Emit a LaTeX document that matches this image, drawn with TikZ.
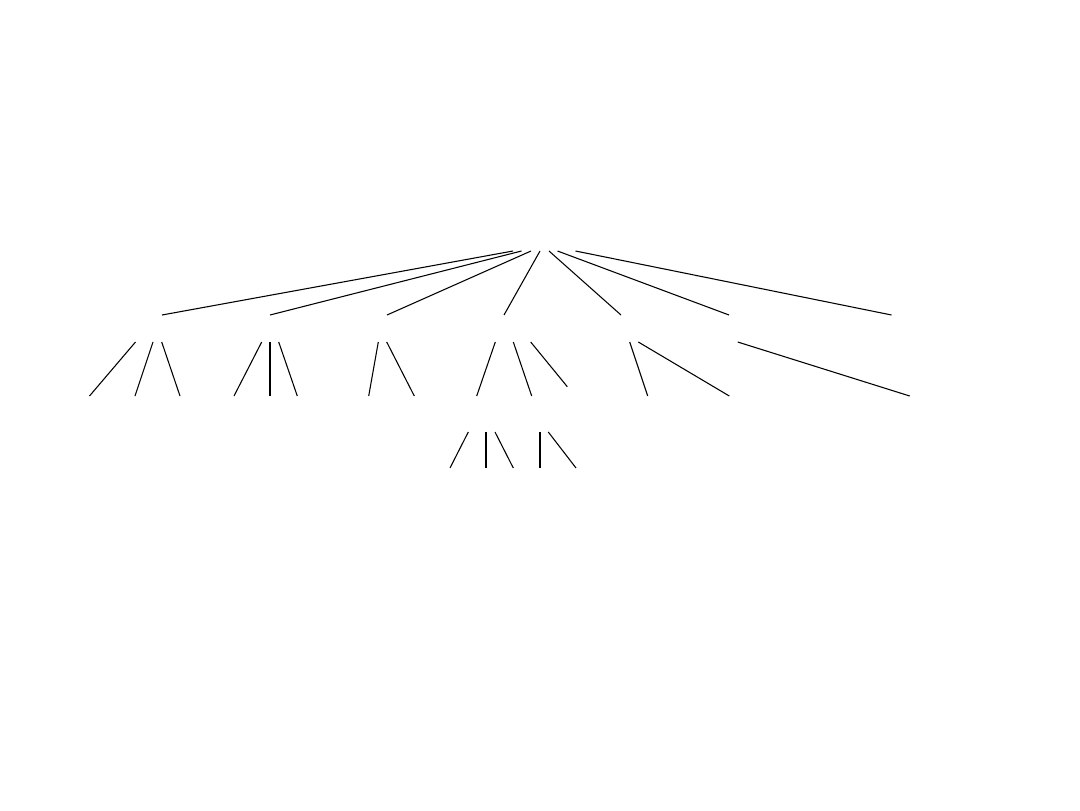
\documentclass[tikz,border=0pt]{standalone}
\begin{document}
\begin{tikzpicture}[x=0.75pt,y=-0.75pt,edge/.style={draw=black,line width=0.8pt}]
\useasboundingbox[fill=white] (0,0) rectangle (1080,810);
% root attachment points
\coordinate (r1) at (513,251);
\coordinate (r2) at (521.5,251);
\coordinate (r3) at (531,251);
\coordinate (r4) at (540,251);
\coordinate (r5) at (549,251);
\coordinate (r6) at (557.5,251);
\coordinate (r7) at (575.5,251);
% level 1 tops
\coordinate (a) at (162,315);
\coordinate (b) at (270,315);
\coordinate (c) at (387,315);
\coordinate (d) at (504,315);
\coordinate (e) at (621,315);
\coordinate (f) at (729,315);
\coordinate (g) at (891.5,315);
\draw[edge] (r1) -- (a);
\draw[edge] (r2) -- (b);
\draw[edge] (r3) -- (c);
\draw[edge] (r4) -- (d);
\draw[edge] (r5) -- (e);
\draw[edge] (r6) -- (f);
\draw[edge] (r7) -- (g);
% level 1 bottoms (attachment points)
\coordinate (a1) at (135.5,342);
\coordinate (a2) at (153,342);
\coordinate (a3) at (161.7,342);
\coordinate (b1) at (261.7,342);
\coordinate (b2) at (270,342);
\coordinate (b3) at (278.7,342);
\coordinate (c1) at (378.3,342);
\coordinate (c2) at (386.7,342);
\coordinate (d1) at (495.3,342);
\coordinate (d2) at (513.3,342);
\coordinate (d3) at (530.7,342);
\coordinate (e1) at (629.7,342);
\coordinate (e2) at (638.3,342);
\coordinate (f1) at (737.7,342);
% level 2 tops
\coordinate (aa) at (89.5,396);
\coordinate (ab) at (135,396);
\coordinate (ac) at (180,396);
\coordinate (ba) at (234,396);
\coordinate (bb) at (270,396);
\coordinate (bc) at (297.3,396);
\coordinate (ca) at (368.7,396);
\coordinate (cb) at (414.3,396);
\coordinate (da) at (476.7,396);
\coordinate (db) at (531.7,396);
\coordinate (dc) at (567.3,386.7);
\coordinate (ea) at (647.7,396);
\coordinate (eb) at (729.3,396);
\coordinate (fa) at (909.7,396);
\draw[edge] (a1) -- (aa);
\draw[edge] (a2) -- (ab);
\draw[edge] (a3) -- (ac);
\draw[edge] (b1) -- (ba);
\draw[edge] (b2) -- (bb);
\draw[edge] (b3) -- (bc);
\draw[edge] (c1) -- (ca);
\draw[edge] (c2) -- (cb);
\draw[edge] (d1) -- (da);
\draw[edge] (d2) -- (db);
\draw[edge] (d3) -- (dc);
\draw[edge] (e1) -- (ea);
\draw[edge] (e2) -- (eb);
\draw[edge] (f1) -- (fa);
% level 2 bottoms
\coordinate (da1) at (468.3,432);
\coordinate (da2) at (486,432);
\coordinate (da3) at (495,432);
\coordinate (db1) at (540,432);
\coordinate (db2) at (548.3,432);
% level 3 tops
\coordinate (daa) at (450,468);
\coordinate (dab) at (486,468);
\coordinate (dac) at (513.3,468);
\coordinate (dba) at (540,468);
\coordinate (dbb) at (576,468);
\draw[edge] (da1) -- (daa);
\draw[edge] (da2) -- (dab);
\draw[edge] (da3) -- (dac);
\draw[edge] (db1) -- (dba);
\draw[edge] (db2) -- (dbb);
\end{tikzpicture}
\end{document}
